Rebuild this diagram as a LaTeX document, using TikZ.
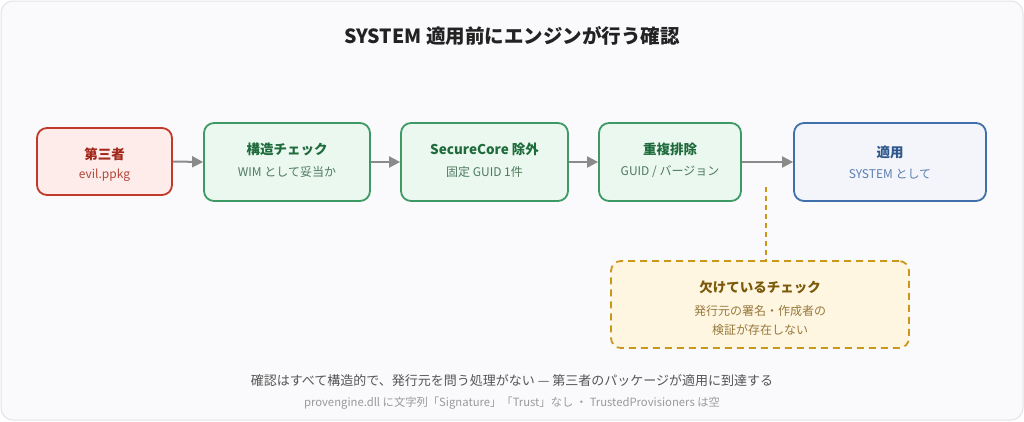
\documentclass[tikz,border=0pt]{standalone}
\usepackage{fontspec}
\setmainfont{Noto Sans CJK JP}
\usetikzlibrary{arrows.meta}
\definecolor{bgc}{HTML}{FAFAFC}
\definecolor{frame}{HTML}{E2E2EA}
\definecolor{redb}{HTML}{C0392B}
\definecolor{redf}{HTML}{FDECEA}
\definecolor{redt}{HTML}{A3281C}
\definecolor{reds}{HTML}{B2463A}
\definecolor{grnb}{HTML}{3E9A64}
\definecolor{grnf}{HTML}{EAF8EF}
\definecolor{grnt}{HTML}{1F6B3C}
\definecolor{grns}{HTML}{4F7A5E}
\definecolor{blub}{HTML}{3F70AA}
\definecolor{bluf}{HTML}{F3F5FB}
\definecolor{blut}{HTML}{2E578A}
\definecolor{blus}{HTML}{5A7FAE}
\definecolor{gldb}{HTML}{C9971C}
\definecolor{gldf}{HTML}{FFF6E2}
\definecolor{gldt}{HTML}{7A5A0A}
\definecolor{glds}{HTML}{97783A}
\definecolor{arr}{HTML}{8A8A8A}
\definecolor{ttl}{HTML}{222222}
\definecolor{foot}{HTML}{555555}
\definecolor{foot2}{HTML}{9A9A9A}
\tikzset{
  box/.style={draw, line width=1.8pt, rounded corners=10pt, inner sep=0pt},
  redbox/.style={box, draw=redb, fill=redf},
  grnbox/.style={box, draw=grnb, fill=grnf},
  hd/.style={font=\fontsize{13.5}{15}\selectfont\bfseries, inner sep=0pt, anchor=center},
  sb/.style={font=\fontsize{12}{14}\selectfont, inner sep=0pt, anchor=center},
  flow/.style={draw=arr, line width=2pt, -{Triangle[length=11pt,width=11pt]}},
}
\begin{document}
\begin{tikzpicture}[x=1pt,y=-1pt]
\useasboundingbox (0,0) rectangle (1024,421);
\draw[frame, fill=bgc, line width=1pt, rounded corners=12pt] (1,1) rectangle (1023,420);

\node[font=\fontsize{19.5}{23}\selectfont\bfseries, text=ttl, inner sep=0pt] (title) at (512,36) {SYSTEM 適用前にエンジンが行う確認};

% boxes
\node[redbox, minimum width=135pt, minimum height=67pt] (b1) at (104.5,161.5) {};
\node[grnbox, minimum width=166pt, minimum height=78pt] (b2) at (287,162) {};
\node[grnbox, minimum width=167pt, minimum height=78pt] (b3) at (484.5,162) {};
\node[grnbox, minimum width=142pt, minimum height=78pt] (b4) at (670,162) {};
\node[box, draw=blub, fill=bluf, minimum width=192pt, minimum height=78pt] (b5) at (890,162) {};
\node[box, draw=gldb, fill=gldf, dash pattern=on 7pt off 5pt, minimum width=298pt, minimum height=87pt] (b6) at (760,304.5) {};

% texts
\node[hd, text=redt] (t1) at (104.5,154.5) {第三者};
\node[sb, text=reds] (s1) at (104.5,175) {evil.ppkg};
\node[hd, text=grnt] (t2) at (287,149.5) {構造チェック};
\node[sb, text=grns] (s2) at (287,172) {WIM として妥当か};
\node[hd, text=grnt] (t3) at (484.5,149.5) {SecureCore 除外};
\node[sb, text=grns] (s3) at (484.5,172) {固定 GUID 1件};
\node[hd, text=grnt] (t4) at (670,149.5) {重複排除};
\node[sb, text=grns] (s4) at (670,172) {GUID / バージョン};
\node[hd, text=blut] (t5) at (890,152.5) {適用};
\node[sb, text=blus] (s5) at (890,174) {SYSTEM として};
\node[hd, text=gldt] (t6) at (760,287) {欠けているチェック};
\node[sb, text=glds] (s6a) at (760,311) {発行元の署名・作成者の};
\node[sb, text=glds] (s6b) at (760,330) {検証が存在しない};

% connectors
\draw[flow] (b1.east) -- (b2.west);
\draw[flow] (b2.east) -- (b3.west);
\draw[flow] (b3.east) -- (b4.west);
\draw[flow] (b4.east) -- (b5.west);
\coordinate (dtop) at (766,187);
\draw[gldb, line width=1.8pt, dash pattern=on 5pt off 4pt] (dtop) -- (dtop |- b6.north);

% footer
\node[font=\fontsize{13}{15}\selectfont, text=foot, inner sep=0pt] (f1) at (512,381) {確認はすべて構造的で、発行元を問う処理がない — 第三者のパッケージが適用に到達する};
\node[font=\fontsize{11.3}{13}\selectfont, text=foot2, inner sep=0pt] (f2) at (512,403.5) {provengine.dll に文字列「Signature」「Trust」なし ・ TrustedProvisioners は空};
\end{tikzpicture}
\end{document}
